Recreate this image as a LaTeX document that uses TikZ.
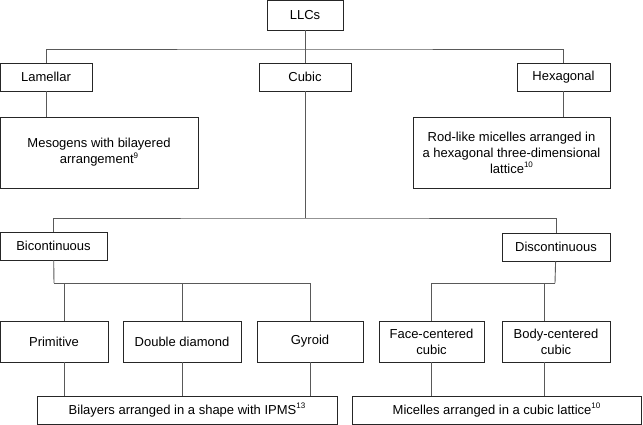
\documentclass[tikz,border=0pt]{standalone}
\usepackage{fontspec}
\setmainfont{Liberation Sans}
\usepackage{xcolor}
\usetikzlibrary{positioning}

\newcommand{\refnum}[1]{\raisebox{0.45em}{\fontsize{8}{8}\selectfont #1}}

\begin{document}
\begin{tikzpicture}[x=1pt, y=-1pt]
			\tikzstyle{box} = [draw=black!85, line width=0.8pt, rectangle, inner sep=0pt, align=center, minimum height=28pt, font=\fontsize{13}{16}\selectfont]
			\tikzstyle{tall} = [box, minimum height=41pt]
			\tikzstyle{line} = [draw=black!65, line width=0.9pt]
			
			\useasboundingbox (0,0) rectangle (643,425);
			
			\node [box, minimum width=76pt, minimum height=30pt] (llc) at (305,15) {LLCs};
			\node [box, minimum width=92pt] (lam) at (46,77) {Lamellar};
			\node [box, minimum width=92pt] (cub) at (305,77) {Cubic};
			\node [box, minimum width=93pt] (hex) at (563.5,77) {Hexagonal};
			\node [box, minimum width=198pt, minimum height=71pt] (mes) at (99,152.5) {Mesogens with bilayered\\arrangement\refnum{9}};
			\node [box, minimum width=197pt, minimum height=71pt] (rod) at (511.5,152.5) {Rod-like micelles arranged in\\a hexagonal three-dimensional\\lattice\refnum{10}};
			\node [box, minimum width=107pt] (bic) at (53.5,246) {Bicontinuous};
			\node [box, minimum width=108pt] (dis) at (556,247) {Discontinuous};
			\node [tall, minimum width=108pt] (prim) at (54,341.5) {Primitive};
			\node [tall, minimum width=118pt] (dd) at (182,341.5) {Double diamond};
			\node [tall, minimum width=106pt] (gyr) at (310,341.5) {Gyroid};
			\node [tall, minimum width=105pt] (fcc) at (431.5,341.5) {Face-centered\\cubic};
			\node [tall, minimum width=108pt] (bcc) at (556,341.5) {Body-centered\\cubic};
			\node [box, minimum width=300pt] (bil) at (187,410) {Bilayers arranged in a shape with IPMS\refnum{13}};
			\node [box, minimum width=289pt] (mic) at (496.5,410) {Micelles arranged in a cubic lattice\refnum{10}};
			
			\coordinate (j1) at (305,49);
			\coordinate (j2) at (305,218);
			\coordinate (j3) at (54,283);
			\coordinate (j4) at (555,283);
			
			\path [line] (llc) -- (j1);
			\path [line] (lam) |- (j1) -| (hex);
			\path [line] (j1) -- (cub);
			\path [line] (lam.south) -- (lam.south |- mes.north);
			\path [line] (hex.south) -- (hex.south |- rod.north);
			\path [line] (cub) -- (j2);
			\path [line] (bic) |- (j2) -| (dis);
			\path [line] (bic) -- (j3);
			\path [line] (j3) -| ([xshift=10pt]prim.north);
			\path [line] (j3) -| (dd);
			\path [line] (j3) -| (gyr);
			\path [line] (dis) -- (j4);
			\path [line] (j4) -| (fcc);
			\path [line] (j4) -| ([xshift=-12pt]bcc.north);
			\path [line] ([xshift=10pt]prim.south) -- ([xshift=10pt]prim.south |- bil.north);
			\path [line] (dd) -- (dd |- bil.north);
			\path [line] (gyr) -- (gyr |- bil.north);
			\path [line] (fcc) -- (fcc |- mic.north);
			\path [line] ([xshift=-12pt]bcc.south) -- ([xshift=-12pt]bcc.south |- mic.north);
\end{tikzpicture}
\end{document}
